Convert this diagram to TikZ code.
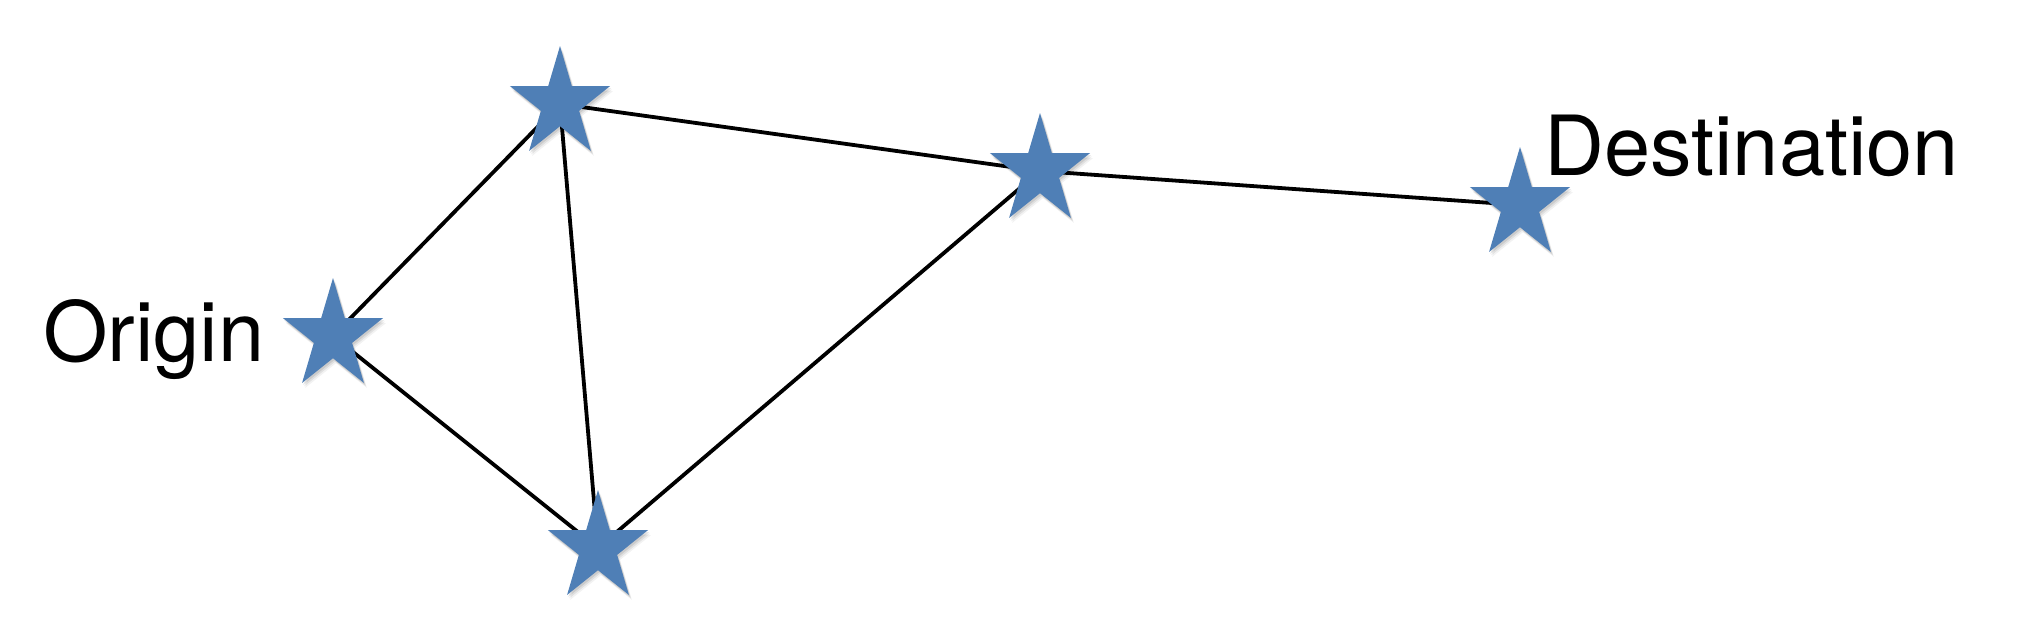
\documentclass[tikz,border=0pt]{standalone}
\usepackage{fontspec}
\setmainfont{TeX Gyre Heros}
\definecolor{starblue}{RGB}{79,127,182}
\tikzset{
  link/.style={line width=3.8pt, black},
  lbl/.style={inner sep=0pt, font=\fontsize{83}{92}\selectfont},
  bstar/.pic={
    \foreach \o/\a in {0.05/5, 0.07/3.5, 0.09/2}{
      \fill[black, opacity=\o, shift={(\a*0.6,\a)}]
        (-90:52.6 and 58) -- (-54:20.1 and 22.2) -- (-18:52.6 and 58) -- (18:20.1 and 22.2)
        -- (54:52.6 and 58) -- (90:20.1 and 22.2) -- (126:52.6 and 58) -- (162:20.1 and 22.2)
        -- (198:52.6 and 58) -- (234:20.1 and 22.2) -- cycle;
    }
    \fill[starblue]
      (-90:52.6 and 58) -- (-54:20.1 and 22.2) -- (-18:52.6 and 58) -- (18:20.1 and 22.2)
      -- (54:52.6 and 58) -- (90:20.1 and 22.2) -- (126:52.6 and 58) -- (162:20.1 and 22.2)
      -- (198:52.6 and 58) -- (234:20.1 and 22.2) -- cycle;
  }
}
\begin{document}
\begin{tikzpicture}[x=1pt, y=-1pt]
\useasboundingbox[fill=white] (0,0) rectangle (2024,638);
\coordinate (o) at (333,336);
\coordinate (t) at (560,104);
\coordinate (m) at (1040,171);
\coordinate (d) at (1520,205);
\coordinate (b) at (598,548);
\draw[link] (o) -- (t);
\draw[link] (o) -- (b);
\draw[link] (t) -- (b);
\draw[link] (t) -- (m);
\draw[link] (m) -- (b);
\draw[link] (m) -- (d);
\foreach \p in {o,t,m,d,b}{ \pic at (\p) {bstar}; }
\node[lbl, anchor=base west] (origin) at (43,361) {Origin};
\node[lbl, anchor=base west] (dest) at (1544,175) {Destination};
\end{tikzpicture}
\end{document}
